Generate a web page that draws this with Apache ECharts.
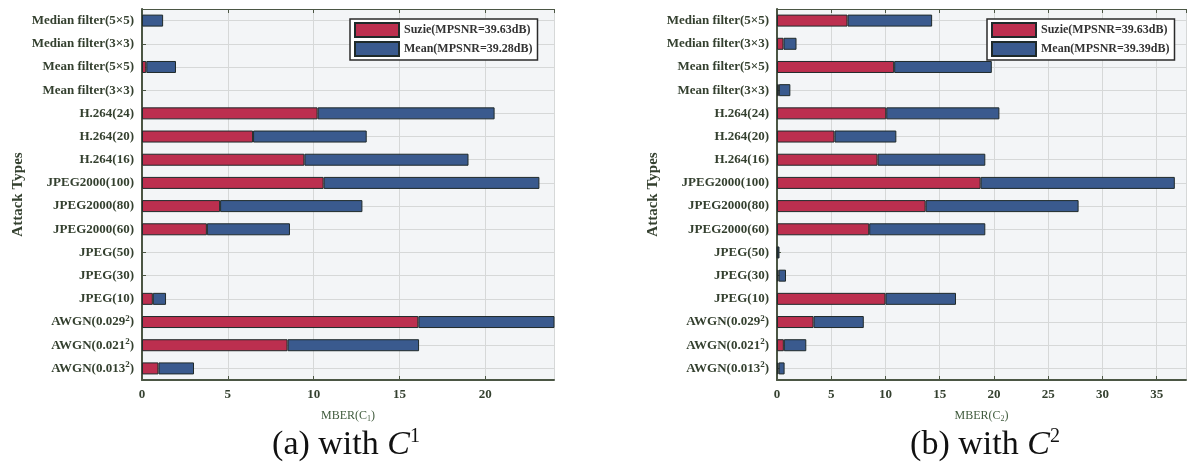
<!DOCTYPE html>
<html>
<head>
<meta charset="utf-8">
<script src="https://cdn.jsdelivr.net/npm/echarts@6/dist/echarts.min.js"></script>
<style>
html,body{margin:0;padding:0;background:#fff;}
#c{width:1187px;height:472px;}
</style>
</head>
<body>
<div id="c"></div>
<script>
// Categories bottom -> top
const categories = [
  'AWGN(0.013²)', 'AWGN(0.021²)', 'AWGN(0.029²)',
  'JPEG(10)', 'JPEG(30)', 'JPEG(50)',
  'JPEG2000(60)', 'JPEG2000(80)', 'JPEG2000(100)',
  'H.264(16)', 'H.264(20)', 'H.264(24)',
  'Mean filter(3×3)', 'Mean filter(5×5)',
  'Median filter(3×3)', 'Median filter(5×5)'
];
// (a) with C1 : stacked segments
const suzieC1 = [0.96, 8.48, 16.10, 0.63, null, null, 3.78, 4.55, 10.58, 9.46, 6.47, 10.23, null, 0.25, null, null];
const meanC1  = [2.07, 7.66, 14.0, 0.77, null, null, 4.84, 8.29, 12.57, 9.56, 6.62, 10.31, null, 1.73, null, 1.23];
// (b) with C2 : stacked segments
const suzieC2 = [0.15, 0.63, 3.37, 10.0, 0.15, 0.05, 8.5, 13.7, 18.77, 9.27, 5.3, 10.07, 0.17, 10.8, 0.6, 6.5];
const meanC2  = [0.55, 2.07, 4.63, 6.5, 0.68, 0.18, 10.7, 14.1, 17.9, 9.93, 5.7, 10.43, 1.06, 9.0, 1.2, 7.8];

const nameSuzie = 'Suzie(MPSNR=39.63dB)';
const nameMeanC1 = 'Mean(MPSNR=39.28dB)';
const nameMeanC2 = 'Mean(MPSNR=39.39dB)';

const RED = '#BC2F4F', BLUE = '#3A5A8E', EDGE = '#1f2a2a';
const TXT = '#34402f', AX = '#4b5644', GRIDC = '#d6d8d8';
const SERIF = '"Liberation Serif","Times New Roman",serif';

const chart = echarts.init(document.getElementById('c'), null, {renderer: 'canvas'});

function xMain(grid, max, sub) {
  return {
    type: 'value', gridIndex: grid, position: 'bottom', min: 0, max: max, interval: 5,
    axisLine: {show: true, lineStyle: {color: AX, width: 2}},
    axisTick: {show: true, inside: true, length: 4, lineStyle: {color: AX}},
    axisLabel: {color: TXT, fontFamily: SERIF, fontWeight: 'bold', fontSize: 13, margin: 8,
      showMaxLabel: false},
    splitLine: {show: true, lineStyle: {color: GRIDC, width: 1}},
    name: '{a|MBER(C}{s|' + sub + '}{a|)}',
    nameLocation: 'middle', nameGap: 28,
    nameTextStyle: {rich: {
      a: {fontFamily: SERIF, fontSize: 12, color: '#3f5a3c'},
      s: {fontFamily: SERIF, fontSize: 8, color: '#3f5a3c', padding: [7, 0, 0, 0]}
    }}
  };
}
function xTop(grid, max) {
  return {
    type: 'value', gridIndex: grid, position: 'top', min: 0, max: max, interval: 5,
    axisLine: {show: true, lineStyle: {color: AX, width: 1}},
    axisTick: {show: true, inside: true, length: 4, lineStyle: {color: AX}},
    axisLabel: {show: false}, splitLine: {show: false}
  };
}
const labelRich = {
  t: {fontFamily: SERIF, fontWeight: 'bold', fontSize: 13, color: TXT},
  s: {fontFamily: SERIF, fontWeight: 'bold', fontSize: 9, color: TXT, padding: [0, 0, 7, 0]}
};
function yMain(grid) {
  return {
    type: 'category', gridIndex: grid, position: 'left', data: categories,
    axisLine: {show: true, lineStyle: {color: AX, width: 2}},
    axisTick: {show: true, inside: true, alignWithLabel: true, length: 4, lineStyle: {color: AX}},
    axisLabel: {margin: 8,
      formatter: function (v) {
        const parts = v.split('²');
        if (parts.length === 1) return '{t|' + v + '}';
        return '{t|' + parts[0] + '}{s|2}{t|' + parts[1] + '}';
      },
      rich: labelRich},
    splitLine: {show: true, alignWithLabel: true, lineStyle: {color: GRIDC}},
    name: 'Attack Types', nameLocation: 'middle', nameRotate: 90, nameGap: 116,
    nameTextStyle: {fontFamily: SERIF, fontWeight: 'bold', fontSize: 15, color: TXT}
  };
}
function yRight(grid) {
  return {
    type: 'category', gridIndex: grid, position: 'right', data: categories,
    axisLine: {show: true, lineStyle: {color: AX, width: 1}},
    axisTick: {show: true, inside: false, alignWithLabel: true, length: 3, lineStyle: {color: AX}},
    axisLabel: {show: false}, splitLine: {show: false}
  };
}

function legendFor(left, names) {
  return {data: names.map(n => ({name: n, icon: 'rect'})), left: left, top: 19, orient: 'vertical',
    itemWidth: 44, itemHeight: 14, itemGap: 3, padding: [3, 5, 3, 4],
    backgroundColor: '#fff', borderColor: '#2b2b2b', borderWidth: 1.5,
    textStyle: {fontFamily: SERIF, fontWeight: 'bold', fontSize: 12, color: '#333'},
    selectedMode: false};
}
function caption(letter, sup, x) {
  const base = {fontFamily: SERIF, fontSize: 34, fontWeight: 'normal', color: '#111'};
  return {text: '{n|(' + letter + ') with }{i|C}{p|' + sup + '}', left: x, top: 422, textAlign: 'center',
    textStyle: {fontWeight: 'normal', rich: {
      n: base,
      i: Object.assign({}, base, {fontStyle: 'italic'}),
      p: {fontFamily: SERIF, fontSize: 20, fontWeight: 'normal', color: '#111', padding: [0, 0, 16, 0]}
    }}};
}
function bars(name, stack, xi, yi, data, color) {
  return {type: 'bar', name: name, stack: stack, xAxisIndex: xi, yAxisIndex: yi, data: data,
    barWidth: 12, clip: true, itemStyle: {color: color, borderColor: EDGE, borderWidth: 1}};
}

chart.setOption({
  animation: false,
  backgroundColor: '#ffffff',
  grid: [
    {left: 142, top: 9, width: 412, height: 371, show: true, backgroundColor: '#f3f5f7', borderWidth: 0},
    {left: 777, top: 9, width: 409, height: 371, show: true, backgroundColor: '#f3f5f7', borderWidth: 0}
  ],
  xAxis: [xMain(0, 24, '1'), xTop(0, 24), xMain(1, 37.7, '2'), xTop(1, 37.7)],
  yAxis: [yMain(0), yRight(0), yMain(1), yRight(1)],
  legend: [legendFor(350, [nameSuzie, nameMeanC1]), legendFor(987, [nameSuzie, nameMeanC2])],
  title: [caption('a', '1', 341), caption('b', '2', 980)],
  series: [
    bars(nameSuzie, 'a', 0, 0, suzieC1, RED),
    bars(nameMeanC1, 'a', 0, 0, meanC1, BLUE),
    bars(nameSuzie, 'b', 2, 2, suzieC2, RED),
    bars(nameMeanC2, 'b', 2, 2, meanC2, BLUE)
  ]
});
</script>
</body>
</html>
